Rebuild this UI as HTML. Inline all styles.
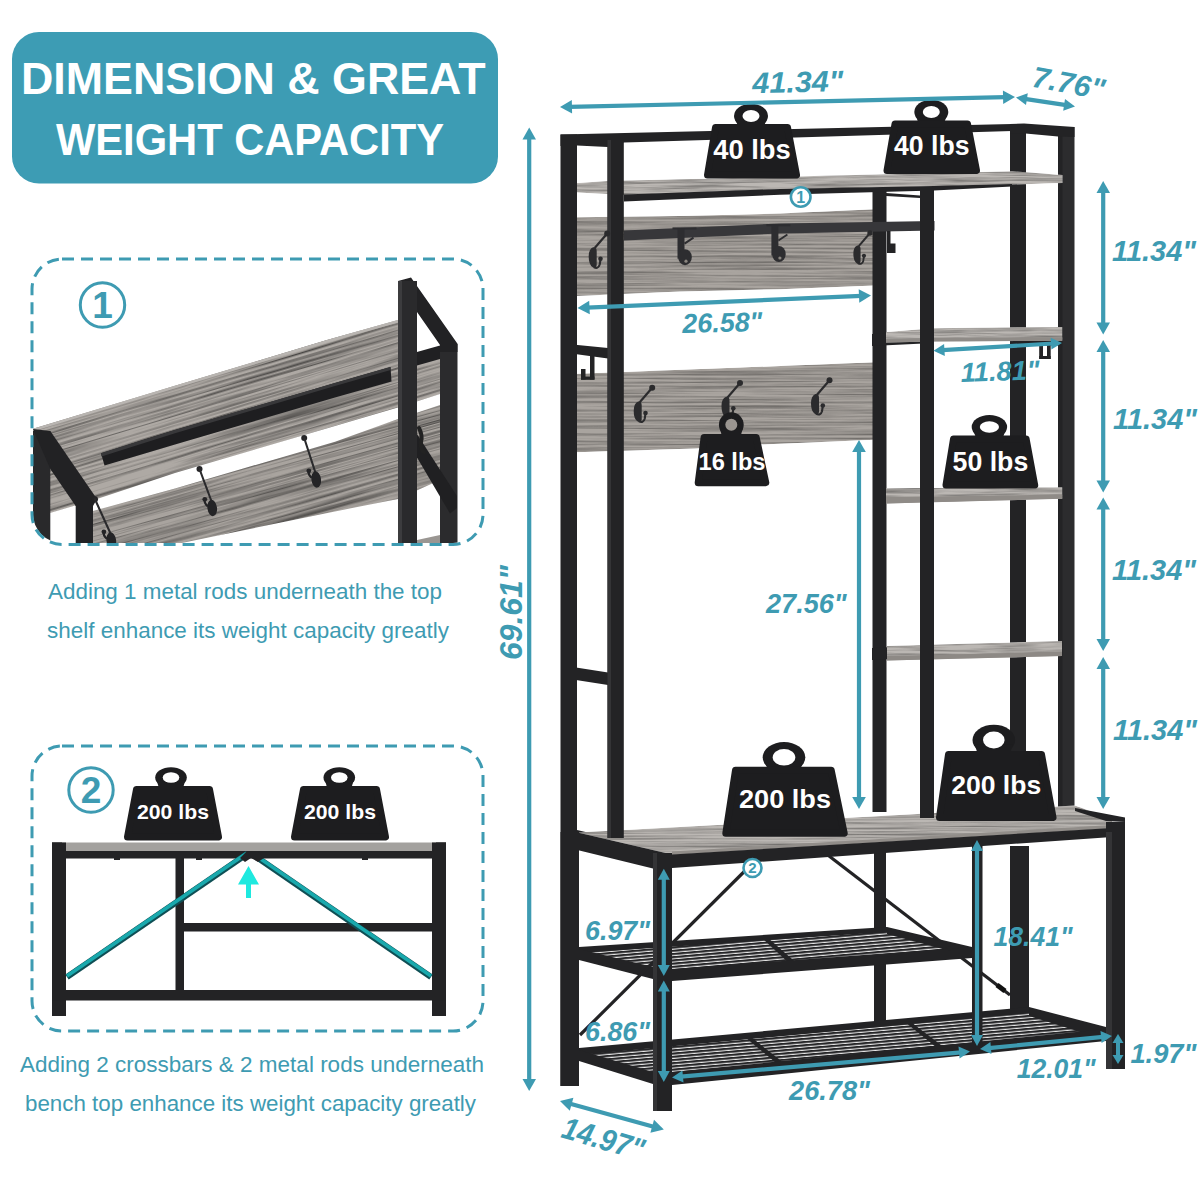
<!DOCTYPE html>
<html lang="en"><head><meta charset="utf-8"><title>Dimension &amp; Great Weight Capacity</title>
<style>
html,body{margin:0;padding:0;background:#fff}
body{width:1200px;height:1200px;overflow:hidden;font-family:'Liberation Sans', Arial, sans-serif}
svg{display:block}
text{font-family:'Liberation Sans', Arial, sans-serif}
</style></head><body>
<svg width="1200" height="1200" viewBox="0 0 1200 1200">
<defs>
<filter id="wood" x="0" y="0" width="100%" height="100%" color-interpolation-filters="sRGB">
<feTurbulence type="fractalNoise" baseFrequency="0.006 0.5" numOctaves="5" seed="7" result="n"/>
<feColorMatrix in="n" type="matrix" values="0.72 0 0 0 0.54  0.72 0 0 0 0.54  0.72 0 0 0 0.54  0 0 0 0 1" result="g"/>
<feBlend in="SourceGraphic" in2="g" mode="multiply" result="m"/>
<feComposite in="m" in2="SourceGraphic" operator="in"/>
</filter>
<filter id="wood2" x="0" y="0" width="100%" height="100%" color-interpolation-filters="sRGB">
<feTurbulence type="fractalNoise" baseFrequency="0.015 0.5" numOctaves="3" seed="3" result="n"/>
<feColorMatrix in="n" type="matrix" values="0.7 0 0 0 0.55  0.7 0 0 0 0.55  0.7 0 0 0 0.55  0 0 0 0 1" result="g"/>
<feBlend in="SourceGraphic" in2="g" mode="multiply" result="m"/>
<feComposite in="m" in2="SourceGraphic" operator="in"/>
</filter>
<filter id="wood3" x="0" y="0" width="100%" height="100%" color-interpolation-filters="sRGB">
<feTurbulence type="fractalNoise" baseFrequency="0.005 0.42" numOctaves="5" seed="11" result="n"/>
<feColorMatrix in="n" type="matrix" values="1.25 0 0 0 0.24  1.25 0 0 0 0.24  1.25 0 0 0 0.24  0 0 0 0 1" result="g"/>
<feBlend in="SourceGraphic" in2="g" mode="multiply" result="m"/>
<feComposite in="m" in2="SourceGraphic" operator="in"/>
</filter>
<pattern id="wire" width="6" height="3.2" patternUnits="userSpaceOnUse" patternTransform="rotate(-5)">
<rect width="6" height="3.2" fill="#e8e8e8"/><rect width="6" height="2.1" fill="#262628"/>
</pattern>
<clipPath id="c1"><rect x="33" y="260" width="449" height="283" rx="29"/></clipPath>
</defs>
<rect width="1200" height="1200" fill="#fff"/>

<g id="banner">
<rect x="12" y="32" width="486" height="151.5" rx="27" fill="#3d9cb4"/>
<text x="21" y="93.8" font-size="44.7" font-weight="700" fill="#fff" textLength="464.5" lengthAdjust="spacingAndGlyphs">DIMENSION &amp; GREAT</text>
<text x="56" y="155" font-size="44.7" font-weight="700" fill="#fff" textLength="388" lengthAdjust="spacingAndGlyphs">WEIGHT CAPACITY</text>
</g>
<g id="box1">
<clipPath id="c1a"><polygon points="33.0,428.7 175.0,385.8 327.0,340.0 398.0,320.0 417.0,352.0 440.0,350.0 440.0,394.0 398.0,407.5 335.0,426.1 175.0,472.9 97.0,499.0 50.0,513.0 33.0,518.0"/></clipPath>
<clipPath id="c1b"><polygon points="93.0,511.0 175.0,488.5 335.0,441.7 398.0,419.0 440.0,405.0 440.0,480.0 398.0,499.0 335.0,511.4 175.0,544.4 93.0,562.0"/></clipPath>
<g clip-path="url(#c1)">
<g clip-path="url(#c1b)"><rect x="-60" y="380" width="640" height="260" fill="#a9a49f" filter="url(#wood3)" transform="rotate(-15.5 240 480)"/></g>
<g clip-path="url(#c1a)"><rect x="-60" y="300" width="640" height="260" fill="#aea9a4" filter="url(#wood3)" transform="rotate(-16.7 240 400)"/></g>
<polyline points="33.0,430.0 175.0,387.0 327.0,341.2 398.0,321.2" fill="none" stroke="#b9b5b1" stroke-width="2.5"/>
<polygon points="101.0,453.3 175.0,430.0 335.0,383.0 390.5,367.0 391.5,381.5 335.0,397.5 175.0,444.5 104.5,465.5" fill="#1e1e20" />
<polygon points="101.0,453.3 175.0,430.0 335.0,383.0 390.5,367.0 390.7,370.0 335.0,386.0 175.0,433.2 101.5,456.5" fill="#38383a" />
<rect x="33.0" y="431.0" width="17.3" height="129.0" fill="#29292b" />
<polygon points="33.0,429.0 50.3,431.0 97.0,499.0 93.0,506.0 75.7,506.0 50.3,469.0" fill="#222224" />
<rect x="75.7" y="504.0" width="17.3" height="56.0" fill="#222224" />
<rect x="440.0" y="344.0" width="17.5" height="216.0" fill="#2b2b2d" />
<polygon points="417.0,457.5 450.0,513.5 457.0,508.0 457.0,496.0 417.0,434.0" fill="#202022" />
<polygon points="417.0,352.0 440.0,345.5 440.0,359.0 417.0,365.5" fill="#202022" />
<polygon points="398.0,281.0 411.0,277.5 457.5,343.7 457.5,352.0 440.0,352.0 440.0,345.0 417.0,312.0" fill="#222224" />
<rect x="398.0" y="281.0" width="19.0" height="279.0" fill="#2a2a2c" />
<rect x="398.0" y="281.0" width="4.0" height="279.0" fill="#3c3c3e" />
<polygon points="417.0,540.0 440.0,535.0 440.0,560.0 417.0,560.0" fill="#9a9692" />
<circle cx="95.0" cy="499.3" r="3.0" fill="#242426"/>
<line x1="95.0" y1="499.3" x2="110.3" y2="533.0" stroke="#2a2a2c" stroke-width="2.1" stroke-linecap="round"/>
<ellipse cx="111.3" cy="540.5" rx="4.8" ry="8.2" fill="#242426" transform="rotate(-8 111.3 540.5)"/>
<path d="M103.9 531.8 q-1 4 3 7" stroke="#242426" stroke-width="2.2" fill="none"/>
<circle cx="103.9" cy="531.8" r="2.4" fill="#242426"/>
<circle cx="199.5" cy="469.0" r="3.0" fill="#242426"/>
<line x1="199.5" y1="469.0" x2="211.2" y2="500.5" stroke="#2a2a2c" stroke-width="2.1" stroke-linecap="round"/>
<ellipse cx="212.2" cy="508.0" rx="4.8" ry="8.2" fill="#242426" transform="rotate(-8 212.2 508.0)"/>
<path d="M204.8 499.3 q-1 4 3 7" stroke="#242426" stroke-width="2.2" fill="none"/>
<circle cx="204.8" cy="499.3" r="2.4" fill="#242426"/>
<circle cx="304.2" cy="438.0" r="3.0" fill="#242426"/>
<line x1="304.2" y1="438.0" x2="315.2" y2="472.0" stroke="#2a2a2c" stroke-width="2.1" stroke-linecap="round"/>
<ellipse cx="316.2" cy="479.5" rx="4.8" ry="8.2" fill="#242426" transform="rotate(-8 316.2 479.5)"/>
<path d="M308.8 470.8 q-1 4 3 7" stroke="#242426" stroke-width="2.2" fill="none"/>
<circle cx="308.8" cy="470.8" r="2.4" fill="#242426"/>
<path d="M419 428 q4 8 2 14 q-1 8 3 10" stroke="#222" stroke-width="4" fill="none" stroke-linecap="round"/>
</g>
<rect x="32" y="259" width="451" height="285.5" rx="30" fill="none" stroke="#3e9bb2" stroke-width="3" stroke-dasharray="12 7"/>
<circle cx="102.5" cy="305" r="22.2" fill="none" stroke="#3e9bb2" stroke-width="3"/>
<text x="102.5" y="318" font-size="37" font-weight="700" fill="#3e9bb2" text-anchor="middle">1</text>
<text x="48" y="599" font-size="22.3" fill="#3e9bb2" textLength="394" lengthAdjust="spacingAndGlyphs">Adding 1 metal rods underneath the top</text>
<text x="47" y="638" font-size="22.3" fill="#3e9bb2" textLength="402" lengthAdjust="spacingAndGlyphs">shelf enhance its weight capacity greatly</text>
</g>
<g id="box2">
<rect x="52.0" y="842.5" width="394.0" height="9.0" fill="#a3a19e" />
<rect x="52.0" y="851.0" width="394.0" height="7.5" fill="#232325" />
<rect x="52.0" y="842.5" width="14.0" height="173.5" fill="#232325" />
<rect x="432.0" y="842.5" width="14.0" height="173.5" fill="#232325" />
<rect x="52.0" y="842.5" width="10.0" height="9.5" fill="#232325" />
<rect x="436.0" y="842.5" width="10.0" height="9.5" fill="#232325" />
<rect x="175.5" y="858.0" width="8.5" height="142.0" fill="#232325" />
<rect x="183.0" y="923.0" width="250.0" height="8.5" fill="#232325" />
<rect x="52.0" y="990.0" width="394.0" height="10.5" fill="#232325" />
<line x1="67.0" y1="977.0" x2="247.0" y2="854.0" stroke="#0f4f55" stroke-width="6.0" />
<line x1="67.0" y1="976.0" x2="247.0" y2="853.0" stroke="#19a9ad" stroke-width="3.6" />
<line x1="431.0" y1="977.0" x2="255.0" y2="856.0" stroke="#0f4f55" stroke-width="6.0" />
<line x1="431.0" y1="976.0" x2="255.0" y2="855.0" stroke="#19a9ad" stroke-width="3.6" />
<polygon points="240.0,858.0 246.0,852.0 258.0,852.0 264.0,858.0 258.0,862.0 251.0,858.0 245.0,862.0" fill="#232325" />
<rect x="114.0" y="858.0" width="6.0" height="2.0" fill="#232325" />
<rect x="196.0" y="858.0" width="6.0" height="2.0" fill="#232325" />
<rect x="362.0" y="858.0" width="6.0" height="2.0" fill="#232325" />
<polygon points="248.5,866.0 259.0,884.5 251.0,884.5 251.0,898.0 246.0,898.0 246.0,884.5 238.0,884.5" fill="#1ee9df" />
<ellipse cx="171.0" cy="777.5" rx="15.8" ry="10.3" fill="#1d1d1f"/>
<polygon points="156.8,780.6 185.2,780.6 182.8,789.0 159.2,789.0" fill="#1d1d1f" />
<polygon points="136.5,789.5 209.5,789.5 218.5,837.0 127.5,837.0" fill="#1d1d1f" stroke="#1d1d1f" stroke-width="7" stroke-linejoin="round"/>
<ellipse cx="171.0" cy="777.5" rx="8.3" ry="5.3" fill="#fff"/>
<text x="173.0" y="818.8" font-size="21.0" font-weight="700" fill="#fff" text-anchor="middle" textLength="72.0" lengthAdjust="spacingAndGlyphs">200 lbs</text>
<ellipse cx="339.3" cy="777.5" rx="15.8" ry="10.3" fill="#1d1d1f"/>
<polygon points="325.1,780.6 353.5,780.6 351.2,789.0 327.4,789.0" fill="#1d1d1f" />
<polygon points="303.5,789.5 376.5,789.5 385.5,837.0 294.5,837.0" fill="#1d1d1f" stroke="#1d1d1f" stroke-width="7" stroke-linejoin="round"/>
<ellipse cx="339.3" cy="777.5" rx="8.3" ry="5.3" fill="#fff"/>
<text x="340.0" y="818.8" font-size="21.0" font-weight="700" fill="#fff" text-anchor="middle" textLength="72.0" lengthAdjust="spacingAndGlyphs">200 lbs</text>
<rect x="32" y="746" width="451" height="285" rx="30" fill="none" stroke="#3e9bb2" stroke-width="3" stroke-dasharray="12 7"/>
<circle cx="91" cy="790" r="22.2" fill="none" stroke="#3e9bb2" stroke-width="3"/>
<text x="91" y="803" font-size="37" font-weight="700" fill="#3e9bb2" text-anchor="middle">2</text>
<text x="20" y="1072" font-size="22.3" fill="#3e9bb2" textLength="464" lengthAdjust="spacingAndGlyphs">Adding 2 crossbars &amp; 2 metal rods underneath</text>
<text x="25" y="1111" font-size="22.3" fill="#3e9bb2" textLength="451" lengthAdjust="spacingAndGlyphs">bench top enhance its weight capacity greatly</text>
</g>
<g id="product">
<rect x="874.0" y="850.0" width="12.0" height="176.0" fill="#232325" />
<rect x="1010.0" y="846.0" width="19.0" height="166.0" fill="#232325" />
<polygon points="579.0,951.0 887.0,930.0 972.0,953.0 672.0,975.0" fill="url(#wire)" />
<polygon points="579.0,947.0 887.0,927.0 887.0,932.0 579.0,953.0" fill="#232325" />
<polygon points="762.0,938.0 768.0,938.0 800.0,966.0 792.0,966.0" fill="#232325" />
<polygon points="887.0,927.0 972.0,947.0 972.0,957.0 887.0,934.0" fill="#232325" />
<polygon points="579.0,949.0 653.0,967.0 653.0,979.0 579.0,960.0" fill="#232325" />
<polygon points="672.0,969.0 972.0,947.0 972.0,958.0 672.0,981.0" fill="#232325" />
<polygon points="579.0,1052.0 1029.0,1010.0 1106.0,1032.0 672.0,1078.0" fill="url(#wire)" />
<polygon points="579.0,1048.0 1029.0,1007.0 1029.0,1013.0 579.0,1055.0" fill="#232325" />
<polygon points="745.0,1037.0 751.0,1037.0 790.0,1068.0 782.0,1068.0" fill="#232325" />
<polygon points="905.0,1022.0 911.0,1022.0 950.0,1052.0 942.0,1052.0" fill="#232325" />
<polygon points="1029.0,1007.0 1106.0,1027.0 1106.0,1040.0 1029.0,1016.0" fill="#232325" />
<polygon points="579.0,1050.0 653.0,1072.0 653.0,1084.0 579.0,1061.0" fill="#232325" />
<polygon points="672.0,1072.0 1106.0,1029.0 1106.0,1041.0 672.0,1085.0" fill="#232325" />
<line x1="790.0" y1="826.0" x2="580.0" y2="1035.0" stroke="#232325" stroke-width="3.2" />
<line x1="790.0" y1="826.0" x2="1010.0" y2="995.0" stroke="#232325" stroke-width="3.2" />
<rect x="-5" y="-2.5" width="10" height="5" fill="#111" transform="translate(1001 988) rotate(37)"/>
<rect x="972.0" y="840.0" width="10.5" height="212.0" fill="#232325" />
<polygon points="577.0,217.3 680.0,216.0 780.0,213.5 875.0,209.3 875.0,285.5 780.0,289.2 680.0,291.5 577.0,296.0" fill="#a9a49f" filter="url(#wood)"/>
<polygon points="577.0,373.8 740.0,367.5 875.0,362.2 875.0,439.7 760.0,444.5 695.0,448.5 577.0,452.2" fill="#a9a49f" filter="url(#wood)"/>
<rect x="872.5" y="190.0" width="14.0" height="622.0" fill="#232325" />
<rect x="1010.0" y="124.0" width="16.0" height="684.0" fill="#232325" />
<rect x="1058.0" y="127.0" width="16.5" height="685.0" fill="#2c2c2e" />
<rect x="1058.0" y="127.0" width="4.5" height="685.0" fill="#232325" />
<polygon points="872.0,334.0 934.0,331.0 934.0,343.0 872.0,346.0" fill="#232325" />
<polygon points="872.0,648.0 934.0,645.0 934.0,657.0 872.0,660.0" fill="#232325" />
<polygon points="886.0,492.0 934.0,491.0 934.0,499.0 886.0,500.0" fill="#232325" />
<polygon points="1010.0,340.0 1060.0,339.0 1060.0,345.5 1010.0,346.0" fill="#232325" />
<polygon points="886.0,332.0 934.0,328.2 1062.2,326.9 1062.2,340.7 934.0,341.6 886.0,342.6" fill="#bbb7b3" filter="url(#wood2)"/>
<polygon points="886.0,339.0 934.0,338.0 1062.2,337.2 1062.2,340.7 934.0,341.6 886.0,342.6" fill="#8f8b87" />
<polygon points="886.0,488.3 1062.2,487.3 1062.2,498.8 886.0,503.6" fill="#bbb7b3" filter="url(#wood2)"/>
<polygon points="886.0,497.0 1062.2,494.5 1062.2,498.8 886.0,503.6" fill="#8f8b87" />
<polygon points="887.0,646.0 1062.0,641.0 1062.0,656.0 887.0,660.5" fill="#bbb7b3" filter="url(#wood2)"/>
<polygon points="887.0,656.0 1062.0,651.5 1062.0,656.0 887.0,660.5" fill="#8d8985" />
<polygon points="577.0,183.0 607.0,181.0 1012.0,171.3 1062.5,175.0 1062.5,183.0 1012.0,184.5 934.0,186.5 780.0,189.5 624.0,195.0 607.0,194.0 577.0,192.5" fill="#bbb7b3" filter="url(#wood2)"/>
<polygon points="624.0,194.5 780.0,189.0 934.0,186.0 1012.0,184.0 1012.0,186.5 934.0,190.5 780.0,194.7 624.0,201.5" fill="#232325" />
<polygon points="886.0,193.0 920.0,195.5 920.0,198.0 886.0,196.0" fill="#232325" />
<polygon points="624.0,230.5 780.0,223.5 934.5,221.0 934.5,230.5 780.0,233.5 624.0,240.5" fill="#37373a" />
<rect x="887.0" y="231.0" width="3.5" height="22.0" fill="#232325" />
<rect x="887.0" y="243.5" width="8.5" height="9.5" fill="#232325" />
<polygon points="560.5,134.5 1012.0,124.0 1012.0,131.0 624.0,142.5 607.5,147.0 577.0,145.5 560.5,146.0" fill="#232325" />
<polygon points="1010.0,124.0 1024.0,123.5 1074.5,127.0 1074.5,137.0 1058.0,136.5 1025.5,133.5 1010.0,133.5" fill="#232325" />
<polygon points="561.0,832.0 577.0,830.0 672.0,852.5 672.0,868.0 655.0,869.0 561.0,846.0" fill="#232325" />
<polygon points="577.5,832.5 1075.0,805.5 1112.0,819.0 1112.0,828.0 672.0,854.5" fill="#bbb7b3" filter="url(#wood)"/>
<polygon points="672.0,851.5 1112.0,825.0 1112.0,828.5 672.0,855.0" fill="#918d89" />
<polygon points="1075.0,808.0 1125.0,817.5 1125.0,822.0 1106.0,821.0 1075.0,811.0" fill="#232325" />
<polygon points="672.0,854.5 1112.0,828.0 1112.0,837.0 672.0,868.0" fill="#232325" />
<rect x="920.0" y="188.0" width="14.0" height="630.0" fill="#232325" />
<polygon points="567.5,344.0 608.0,348.0 608.0,358.5 567.5,353.0" fill="#232325" />
<polygon points="576.0,667.5 608.0,672.5 608.0,685.0 576.0,680.0" fill="#232325" />
<rect x="560.5" y="134.5" width="16.5" height="951.5" fill="#232325" />
<rect x="560.5" y="832.0" width="18.5" height="254.0" fill="#232325" />
<rect x="607.5" y="140.0" width="16.3" height="698.0" fill="#232325" />
<rect x="607.5" y="140.0" width="3.5" height="698.0" fill="#343436" />
<rect x="590.0" y="352.0" width="4.5" height="27.5" fill="#232325" />
<rect x="581.0" y="369.0" width="4.5" height="10.5" fill="#232325" />
<rect x="581.0" y="376.5" width="13.5" height="3.3" fill="#232325" />
<rect x="653.0" y="853.0" width="19.0" height="258.0" fill="#232325" />
<rect x="653.0" y="853.0" width="4.0" height="258.0" fill="#343436" />
<rect x="1106.0" y="822.0" width="19.0" height="247.0" fill="#232325" />
<rect x="1106.0" y="832.0" width="6.0" height="237.0" fill="#343436" />
<g transform="translate(607.2 233.5) scale(1.00 1.00)" fill="#2b2b2d">
<circle cx="0" cy="0" r="3"/>
<path d="M0 0 L-12.5 14.5" stroke="#2b2b2d" stroke-width="2.2" fill="none"/>
<path d="M-14 13.8 q-4.5 1.5 -4.5 9.5 q0 8 4 10.5 q3.5 1.5 4 -2 l0 -14 q0 -4.5 -3.500 -4z"/>
<path d="M-13.5 33.5 q4.5 2.5 6 -2.5 l0.800 -5" stroke="#2b2b2d" stroke-width="2.1" fill="none"/>
<circle cx="-6.7" cy="25.3" r="2.3"/>
</g>
<g transform="translate(652.2 387.7) scale(1.00 1.00)" fill="#2b2b2d">
<circle cx="0" cy="0" r="3"/>
<path d="M0 0 L-12.5 14.5" stroke="#2b2b2d" stroke-width="2.2" fill="none"/>
<path d="M-14 13.8 q-4.5 1.5 -4.5 9.5 q0 8 4 10.5 q3.5 1.5 4 -2 l0 -14 q0 -4.5 -3.500 -4z"/>
<path d="M-13.5 33.5 q4.5 2.5 6 -2.5 l0.800 -5" stroke="#2b2b2d" stroke-width="2.1" fill="none"/>
<circle cx="-6.7" cy="25.3" r="2.3"/>
</g>
<g transform="translate(740.0 383.0) scale(1.00 1.00)" fill="#2b2b2d">
<circle cx="0" cy="0" r="3"/>
<path d="M0 0 L-12.5 14.5" stroke="#2b2b2d" stroke-width="2.2" fill="none"/>
<path d="M-14 13.8 q-4.5 1.5 -4.5 9.5 q0 8 4 10.5 q3.5 1.5 4 -2 l0 -14 q0 -4.5 -3.500 -4z"/>
<path d="M-13.5 33.5 q4.5 2.5 6 -2.5 l0.800 -5" stroke="#2b2b2d" stroke-width="2.1" fill="none"/>
<circle cx="-6.7" cy="25.3" r="2.3"/>
</g>
<g transform="translate(829.5 380.2) scale(1.00 1.00)" fill="#2b2b2d">
<circle cx="0" cy="0" r="3"/>
<path d="M0 0 L-12.5 14.5" stroke="#2b2b2d" stroke-width="2.2" fill="none"/>
<path d="M-14 13.8 q-4.5 1.5 -4.5 9.5 q0 8 4 10.5 q3.5 1.5 4 -2 l0 -14 q0 -4.5 -3.500 -4z"/>
<path d="M-13.5 33.5 q4.5 2.5 6 -2.5 l0.800 -5" stroke="#2b2b2d" stroke-width="2.1" fill="none"/>
<circle cx="-6.7" cy="25.3" r="2.3"/>
</g>
<rect x="672.5" y="227.4" width="24.0" height="2.1" fill="#2d2d30" />
<rect x="677.5" y="228.7" width="7.0" height="30.0" fill="#2d2d30" />
<ellipse cx="685.0" cy="257.2" rx="6.8" ry="8" fill="#2d2d30"/>
<line x1="684.5" y1="243.7" x2="693.5" y2="237.7" stroke="#2d2d30" stroke-width="2.0" />
<circle cx="686.0" cy="261.2" r="1.6" fill="#8b8680"/>
<rect x="766.4" y="224.2" width="24.0" height="2.1" fill="#2d2d30" />
<rect x="771.4" y="225.5" width="7.0" height="30.0" fill="#2d2d30" />
<ellipse cx="778.9" cy="254.0" rx="6.8" ry="8" fill="#2d2d30"/>
<line x1="778.4" y1="240.5" x2="787.4" y2="234.5" stroke="#2d2d30" stroke-width="2.0" />
<circle cx="779.9" cy="258.0" r="1.6" fill="#8b8680"/>
<g transform="translate(870.0 233.0) scale(0.90 0.90)" fill="#2b2b2d">
<circle cx="0" cy="0" r="3"/>
<path d="M0 0 L-12.5 14.5" stroke="#2b2b2d" stroke-width="2.2" fill="none"/>
<path d="M-14 13.8 q-4.5 1.5 -4.5 9.5 q0 8 4 10.5 q3.5 1.5 4 -2 l0 -14 q0 -4.5 -3.500 -4z"/>
<path d="M-13.5 33.5 q4.5 2.5 6 -2.5 l0.800 -5" stroke="#2b2b2d" stroke-width="2.1" fill="none"/>
<circle cx="-6.7" cy="25.3" r="2.3"/>
</g>
<rect x="1039.2" y="341.0" width="3.8" height="18.0" fill="#232325" />
<rect x="1047.0" y="341.0" width="3.7" height="18.0" fill="#232325" />
<rect x="1039.2" y="356.0" width="11.5" height="3.0" fill="#232325" />
<circle cx="800.7" cy="197.0" r="9.8" fill="#fff" stroke="#3e9bb2" stroke-width="2.6"/>
<text x="800.7" y="202.8" font-size="16.0" font-weight="700" fill="#3e9bb2" text-anchor="middle">1</text>
<circle cx="752.5" cy="868.0" r="9.0" fill="#fff" stroke="#3e9bb2" stroke-width="2.6"/>
<text x="752.5" y="873.4" font-size="15.0" font-weight="700" fill="#3e9bb2" text-anchor="middle">2</text>
<ellipse cx="751.0" cy="116.0" rx="17.0" ry="12.3" fill="#1d1d1f"/>
<polygon points="735.7,119.7 766.3,119.7 763.8,127.0 738.2,127.0" fill="#1d1d1f" />
<polygon points="715.5,127.5 787.5,127.5 796.5,175.0 707.5,175.0" fill="#1d1d1f" stroke="#1d1d1f" stroke-width="7" stroke-linejoin="round"/>
<ellipse cx="751.0" cy="116.0" rx="8.5" ry="6.0" fill="#fff"/>
<text x="752.0" y="158.5" font-size="28.0" font-weight="700" fill="#fff" text-anchor="middle" textLength="77.5" lengthAdjust="spacingAndGlyphs">40 lbs</text>
<ellipse cx="931.3" cy="112.0" rx="17.0" ry="12.3" fill="#1d1d1f"/>
<polygon points="916.0,115.7 946.6,115.7 944.0,123.5 918.5,123.5" fill="#1d1d1f" />
<polygon points="895.0,124.0 967.5,124.0 976.5,170.5 887.0,170.5" fill="#1d1d1f" stroke="#1d1d1f" stroke-width="7" stroke-linejoin="round"/>
<ellipse cx="931.3" cy="112.0" rx="8.5" ry="6.0" fill="#fff"/>
<text x="931.8" y="154.8" font-size="28.0" font-weight="700" fill="#fff" text-anchor="middle" textLength="75.5" lengthAdjust="spacingAndGlyphs">40 lbs</text>
<ellipse cx="731.3" cy="424.7" rx="12.4" ry="12.4" fill="#1d1d1f"/>
<polygon points="720.1,428.4 742.5,428.4 740.6,436.9 722.0,436.9" fill="#1d1d1f" />
<polygon points="704.1,437.4 756.2,437.4 765.8,482.7 698.2,482.7" fill="#1d1d1f" stroke="#1d1d1f" stroke-width="7" stroke-linejoin="round"/>
<ellipse cx="731.3" cy="424.7" rx="6.0" ry="6.0" fill="#9b9691"/>
<text x="732.0" y="469.7" font-size="23.8" font-weight="700" fill="#fff" text-anchor="middle" textLength="67.0" lengthAdjust="spacingAndGlyphs">16 lbs</text>
<ellipse cx="989.4" cy="427.0" rx="17.7" ry="12.0" fill="#1d1d1f"/>
<polygon points="973.5,430.6 1005.3,430.6 1002.7,438.5 976.1,438.5" fill="#1d1d1f" />
<polygon points="953.5,439.0 1026.1,439.0 1034.7,485.1 946.0,485.1" fill="#1d1d1f" stroke="#1d1d1f" stroke-width="7" stroke-linejoin="round"/>
<ellipse cx="989.4" cy="427.0" rx="9.6" ry="5.8" fill="#fff"/>
<text x="990.4" y="471.0" font-size="27.0" font-weight="700" fill="#fff" text-anchor="middle" textLength="75.7" lengthAdjust="spacingAndGlyphs">50 lbs</text>
<ellipse cx="784.0" cy="757.3" rx="21.3" ry="15.3" fill="#1d1d1f"/>
<polygon points="764.8,761.9 803.2,761.9 800.0,769.7 768.0,769.7" fill="#1d1d1f" />
<polygon points="735.5,770.2 831.2,770.2 844.2,833.2 725.8,833.2" fill="#1d1d1f" stroke="#1d1d1f" stroke-width="7" stroke-linejoin="round"/>
<ellipse cx="784.0" cy="757.3" rx="11.3" ry="8.3" fill="#fff"/>
<text x="785.0" y="808.4" font-size="26.6" font-weight="700" fill="#fff" text-anchor="middle" textLength="92.0" lengthAdjust="spacingAndGlyphs">200 lbs</text>
<ellipse cx="993.8" cy="740.0" rx="21.3" ry="15.3" fill="#1d1d1f"/>
<polygon points="974.6,744.6 1013.0,744.6 1009.8,754.0 977.8,754.0" fill="#1d1d1f" />
<polygon points="948.5,754.5 1041.5,754.5 1053.0,817.5 939.5,817.5" fill="#1d1d1f" stroke="#1d1d1f" stroke-width="7" stroke-linejoin="round"/>
<ellipse cx="993.8" cy="740.0" rx="10.8" ry="8.5" fill="#fff"/>
<text x="996.2" y="793.8" font-size="26.6" font-weight="700" fill="#fff" text-anchor="middle" textLength="90.0" lengthAdjust="spacingAndGlyphs">200 lbs</text>
<line x1="569.6" y1="106.8" x2="1005.4" y2="97.2" stroke="#3e9bb2" stroke-width="4.2" />
<polygon points="560.0,107.0 572.1,113.5 571.8,100.0" fill="#3e9bb2" />
<polygon points="1015.0,97.0 1003.2,104.0 1002.9,90.5" fill="#3e9bb2" />
<line x1="1024.7" y1="98.8" x2="1066.3" y2="105.2" stroke="#3e9bb2" stroke-width="4.2" />
<polygon points="1016.0,97.5 1026.0,105.1 1027.8,93.2" fill="#3e9bb2" />
<polygon points="1075.0,106.5 1063.2,110.8 1065.0,98.9" fill="#3e9bb2" />
<line x1="529.2" y1="137.1" x2="529.2" y2="1081.4" stroke="#3e9bb2" stroke-width="4.2" />
<polygon points="529.2,127.5 522.5,139.5 536.0,139.5" fill="#3e9bb2" />
<polygon points="529.2,1091.0 522.5,1079.0 536.0,1079.0" fill="#3e9bb2" />
<line x1="1103.2" y1="190.6" x2="1103.2" y2="324.9" stroke="#3e9bb2" stroke-width="4.2" />
<polygon points="1103.2,181.0 1096.5,193.0 1110.0,193.0" fill="#3e9bb2" />
<polygon points="1103.2,334.5 1096.5,322.5 1110.0,322.5" fill="#3e9bb2" />
<line x1="1103.2" y1="349.6" x2="1103.2" y2="482.9" stroke="#3e9bb2" stroke-width="4.2" />
<polygon points="1103.2,340.0 1096.5,352.0 1110.0,352.0" fill="#3e9bb2" />
<polygon points="1103.2,492.5 1096.5,480.5 1110.0,480.5" fill="#3e9bb2" />
<line x1="1103.2" y1="507.1" x2="1103.2" y2="641.4" stroke="#3e9bb2" stroke-width="4.2" />
<polygon points="1103.2,497.5 1096.5,509.5 1110.0,509.5" fill="#3e9bb2" />
<polygon points="1103.2,651.0 1096.5,639.0 1110.0,639.0" fill="#3e9bb2" />
<line x1="1103.2" y1="666.6" x2="1103.2" y2="799.4" stroke="#3e9bb2" stroke-width="4.2" />
<polygon points="1103.2,657.0 1096.5,669.0 1110.0,669.0" fill="#3e9bb2" />
<polygon points="1103.2,809.0 1096.5,797.0 1110.0,797.0" fill="#3e9bb2" />
<line x1="587.1" y1="307.6" x2="861.4" y2="295.9" stroke="#3e9bb2" stroke-width="4.2" />
<polygon points="577.5,308.0 589.8,314.2 589.2,300.7" fill="#3e9bb2" />
<polygon points="871.0,295.5 859.3,302.8 858.7,289.3" fill="#3e9bb2" />
<line x1="942.3" y1="350.2" x2="1053.2" y2="343.5" stroke="#3e9bb2" stroke-width="4.2" />
<polygon points="933.5,350.7 944.8,356.0 944.1,344.1" fill="#3e9bb2" />
<polygon points="1062.0,343.0 1051.4,349.6 1050.7,337.7" fill="#3e9bb2" />
<line x1="859.0" y1="449.6" x2="859.0" y2="799.4" stroke="#3e9bb2" stroke-width="4.2" />
<polygon points="859.0,440.0 852.2,452.0 865.8,452.0" fill="#3e9bb2" />
<polygon points="859.0,809.0 852.2,797.0 865.8,797.0" fill="#3e9bb2" />
<line x1="663.8" y1="877.6" x2="663.8" y2="967.2" stroke="#3e9bb2" stroke-width="4.2" />
<polygon points="663.8,868.8 657.8,879.8 669.8,879.8" fill="#3e9bb2" />
<polygon points="663.8,976.0 657.8,965.0 669.8,965.0" fill="#3e9bb2" />
<line x1="663.8" y1="989.3" x2="663.8" y2="1073.2" stroke="#3e9bb2" stroke-width="4.2" />
<polygon points="663.8,980.5 657.8,991.5 669.8,991.5" fill="#3e9bb2" />
<polygon points="663.8,1082.0 657.8,1071.0 669.8,1071.0" fill="#3e9bb2" />
<line x1="977.0" y1="848.8" x2="977.0" y2="1037.2" stroke="#3e9bb2" stroke-width="4.2" />
<polygon points="977.0,840.0 971.0,851.0 983.0,851.0" fill="#3e9bb2" />
<polygon points="977.0,1046.0 971.0,1035.0 983.0,1035.0" fill="#3e9bb2" />
<line x1="680.8" y1="1076.7" x2="961.2" y2="1052.3" stroke="#3e9bb2" stroke-width="4.2" />
<polygon points="672.0,1077.5 683.5,1082.5 682.4,1070.6" fill="#3e9bb2" />
<polygon points="970.0,1051.5 959.6,1058.4 958.5,1046.5" fill="#3e9bb2" />
<line x1="988.8" y1="1048.1" x2="1103.2" y2="1036.9" stroke="#3e9bb2" stroke-width="4.2" />
<polygon points="980.0,1049.0 991.5,1053.9 990.4,1042.0" fill="#3e9bb2" />
<polygon points="1112.0,1036.0 1101.6,1043.0 1100.5,1031.1" fill="#3e9bb2" />
<line x1="1118.0" y1="1041.2" x2="1118.0" y2="1056.8" stroke="#3e9bb2" stroke-width="4.0" />
<polygon points="1118.0,1034.0 1112.5,1043.0 1123.5,1043.0" fill="#3e9bb2" />
<polygon points="1118.0,1064.0 1112.5,1055.0 1123.5,1055.0" fill="#3e9bb2" />
<line x1="569.3" y1="1103.5" x2="654.5" y2="1127.0" stroke="#3e9bb2" stroke-width="4.2" />
<polygon points="560.0,1101.0 569.8,1110.7 573.4,1097.7" fill="#3e9bb2" />
<polygon points="663.8,1129.5 650.4,1132.8 654.0,1119.8" fill="#3e9bb2" />
<text x="752.5" y="93.2" font-size="29.5" font-weight="700" font-style="italic" fill="#3e9bb2" text-anchor="start" transform="rotate(-1.3 752.5 93.2)" textLength="91.0" lengthAdjust="spacingAndGlyphs">41.34&quot;</text>
<text x="1031.0" y="86.5" font-size="29.5" font-weight="700" font-style="italic" fill="#3e9bb2" text-anchor="start" transform="rotate(10.5 1031.0 86.5)" textLength="73.0" lengthAdjust="spacingAndGlyphs">7.76&quot;</text>
<text x="522.0" y="660.0" font-size="32.0" font-weight="700" font-style="italic" fill="#3e9bb2" text-anchor="start" transform="rotate(-90.0 522.0 660.0)" textLength="95.0" lengthAdjust="spacingAndGlyphs">69.61&quot;</text>
<text x="1112.0" y="261.0" font-size="29.0" font-weight="700" font-style="italic" fill="#3e9bb2" text-anchor="start" textLength="84.0" lengthAdjust="spacingAndGlyphs">11.34&quot;</text>
<text x="1113.0" y="428.5" font-size="29.0" font-weight="700" font-style="italic" fill="#3e9bb2" text-anchor="start" textLength="84.0" lengthAdjust="spacingAndGlyphs">11.34&quot;</text>
<text x="1112.0" y="579.6" font-size="29.0" font-weight="700" font-style="italic" fill="#3e9bb2" text-anchor="start" textLength="84.0" lengthAdjust="spacingAndGlyphs">11.34&quot;</text>
<text x="1113.0" y="739.6" font-size="29.0" font-weight="700" font-style="italic" fill="#3e9bb2" text-anchor="start" textLength="84.0" lengthAdjust="spacingAndGlyphs">11.34&quot;</text>
<text x="682.6" y="333.0" font-size="27.2" font-weight="700" font-style="italic" fill="#3e9bb2" text-anchor="start" transform="rotate(-1.5 682.6 333.0)" textLength="80.0" lengthAdjust="spacingAndGlyphs">26.58&quot;</text>
<text x="961.0" y="382.0" font-size="27.2" font-weight="700" font-style="italic" fill="#3e9bb2" text-anchor="start" transform="rotate(-2.0 961.0 382.0)" textLength="79.0" lengthAdjust="spacingAndGlyphs">11.81&quot;</text>
<text x="766.0" y="613.3" font-size="27.2" font-weight="700" font-style="italic" fill="#3e9bb2" text-anchor="start" textLength="80.7" lengthAdjust="spacingAndGlyphs">27.56&quot;</text>
<text x="585.0" y="939.5" font-size="27.2" font-weight="700" font-style="italic" fill="#3e9bb2" text-anchor="start" textLength="65.0" lengthAdjust="spacingAndGlyphs">6.97&quot;</text>
<text x="585.0" y="1040.5" font-size="27.2" font-weight="700" font-style="italic" fill="#3e9bb2" text-anchor="start" textLength="65.0" lengthAdjust="spacingAndGlyphs">6.86&quot;</text>
<text x="993.6" y="945.8" font-size="27.2" font-weight="700" font-style="italic" fill="#3e9bb2" text-anchor="start" textLength="79.0" lengthAdjust="spacingAndGlyphs">18.41&quot;</text>
<text x="789.0" y="1100.0" font-size="27.2" font-weight="700" font-style="italic" fill="#3e9bb2" text-anchor="start" textLength="81.0" lengthAdjust="spacingAndGlyphs">26.78&quot;</text>
<text x="1016.7" y="1077.8" font-size="27.2" font-weight="700" font-style="italic" fill="#3e9bb2" text-anchor="start" textLength="79.0" lengthAdjust="spacingAndGlyphs">12.01&quot;</text>
<text x="1130.4" y="1063.2" font-size="27.2" font-weight="700" font-style="italic" fill="#3e9bb2" text-anchor="start" textLength="66.0" lengthAdjust="spacingAndGlyphs">1.97&quot;</text>
<text x="560.0" y="1137.0" font-size="31.0" font-weight="700" font-style="italic" fill="#3e9bb2" text-anchor="start" transform="rotate(16.5 560.0 1137.0)" textLength="84.0" lengthAdjust="spacingAndGlyphs">14.97&quot;</text>
</g>
</svg>
</body></html>
